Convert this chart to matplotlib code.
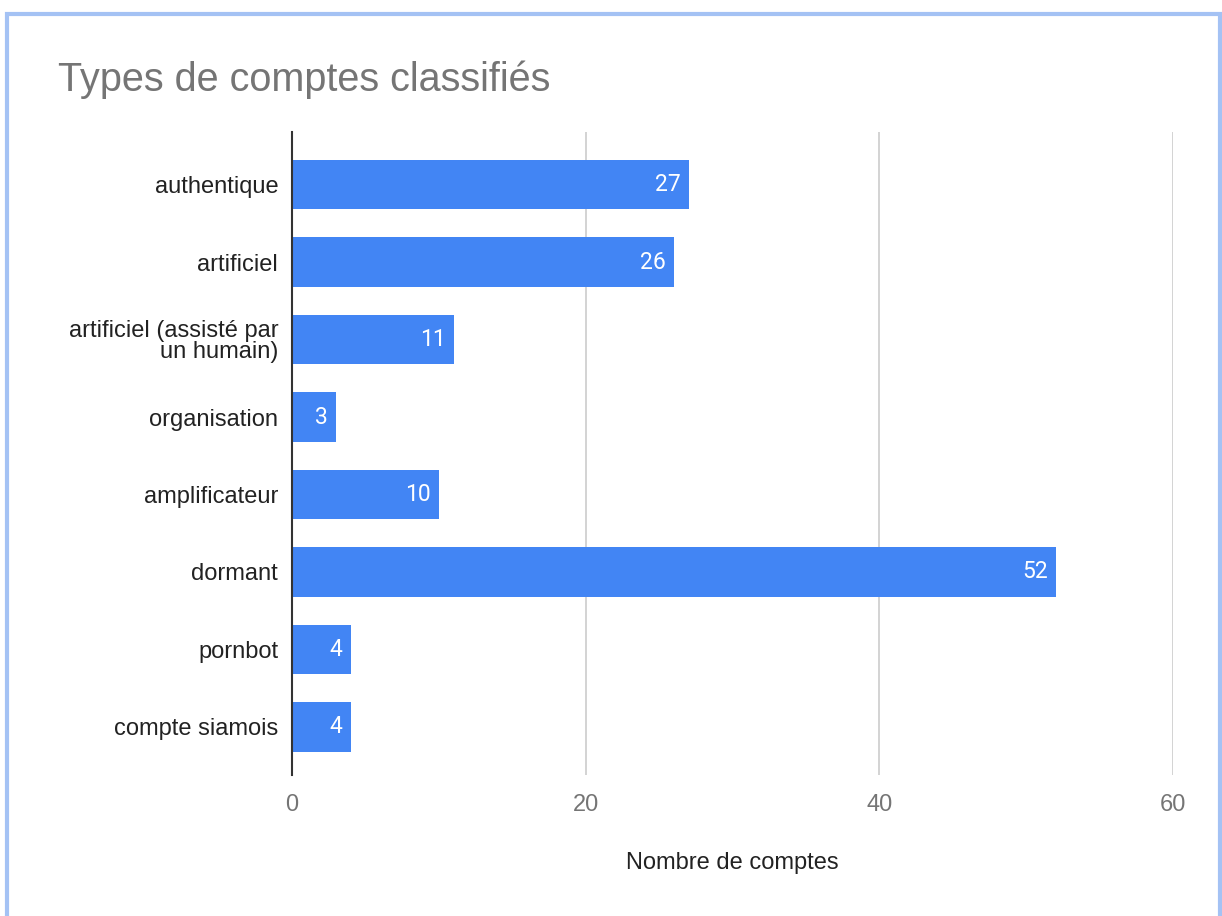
import matplotlib
matplotlib.use("Agg")
import matplotlib.pyplot as plt
from matplotlib.patches import Rectangle

CATEGORIES = [
    "authentique",
    "artificiel",
    "artificiel (assisté par\nun humain)",
    "organisation",
    "amplificateur",
    "dormant",
    "pornbot",
    "compte siamois",
]
COUNTS = [27, 26, 11, 3, 10, 52, 4, 4]
X_TICKS = [0, 20, 40, 60]

BAR_COLOR = "#4285f4"
BORDER_COLOR = "#a4c2f4"

plt.rcParams["font.family"] = ["Liberation Sans", "DejaVu Sans"]

fig = plt.figure(figsize=(12.22, 9.16), dpi=100)
ax = fig.add_axes([0.239, 0.154, 0.721, 0.702])

y = list(range(len(CATEGORIES)))
ax.barh(y, COUNTS, height=0.64, color=BAR_COLOR, zorder=3)

for yi, v in zip(y, COUNTS):
    ax.text(v - 0.55, yi, str(v), ha="right", va="center", color="white",
            fontsize=16.5, family=["Roboto", "DejaVu Sans"], zorder=4)

ax.set_xlim(0, 60)
ax.set_ylim(7.62, -0.68)
ax.set_yticks(y)
ax.set_yticklabels(CATEGORIES, fontsize=17, color="#222222", linespacing=0.95)
ax.set_xticks(X_TICKS)
ax.set_xticklabels([str(t) for t in X_TICKS], fontsize=17, color="#757575")
ax.tick_params(axis="both", length=0)
ax.tick_params(axis="x", pad=14)
ax.tick_params(axis="y", pad=10)

ax.xaxis.grid(True, color="#cccccc", linewidth=1.2, zorder=0)
ax.set_axisbelow(True)
for side in ["top", "right", "bottom"]:
    ax.spines[side].set_visible(False)
ax.spines["left"].set_color("#333333")
ax.spines["left"].set_linewidth(1.5)
ax.spines["left"].set_zorder(5)

ax.set_xlabel("Nombre de comptes", fontsize=17, color="#222222", labelpad=26)

fig.text(58 / 1222, 1 - 80 / 916, "Types de comptes classifiés", fontsize=28.5,
         color="#757575", ha="left", va="center")

# light blue frame around the chart (open at the bottom)
fig.add_artist(Rectangle((7.5 / 1222, -0.1), (1220 - 7.5) / 1222, 1.1 - 14 / 916,
                         transform=fig.transFigure, fill=False,
                         edgecolor=BORDER_COLOR, linewidth=3))

fig.savefig("out.png", dpi=100)
